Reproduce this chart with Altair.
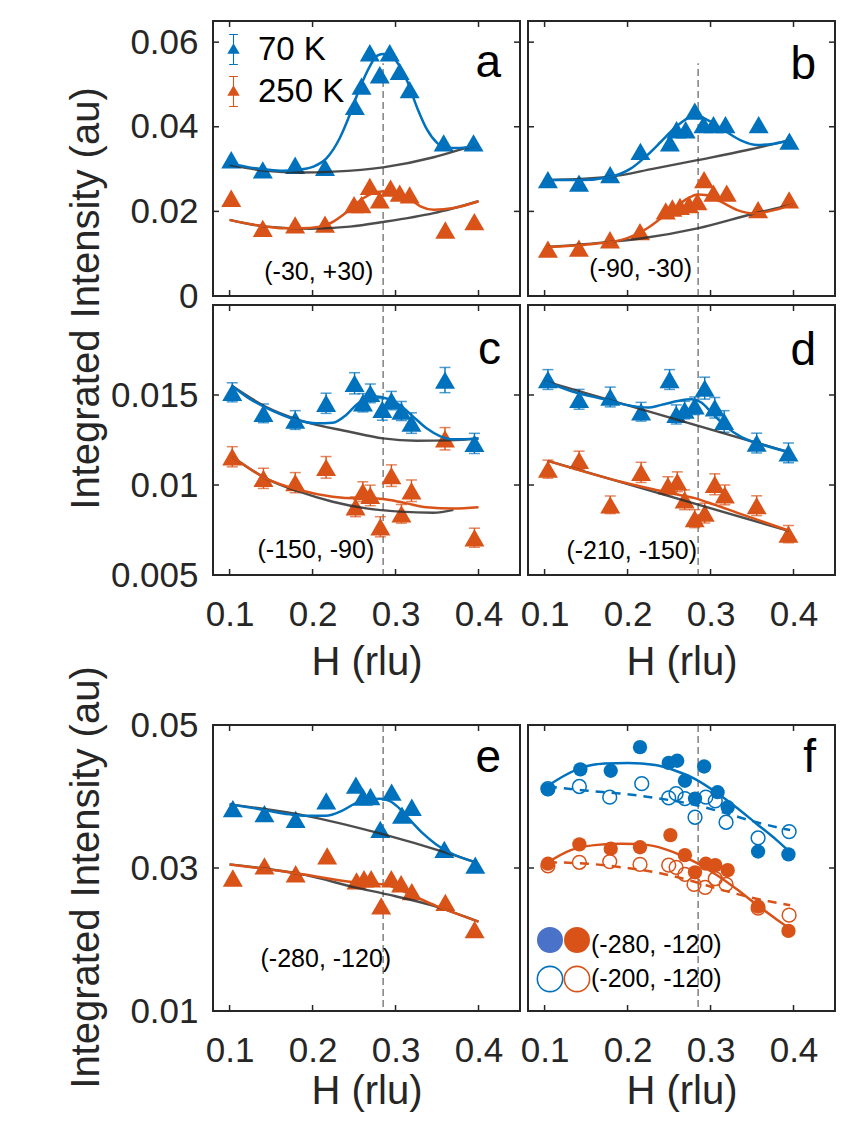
import altair as alt
import pandas as pd

BLUE = "#0072BD"
ORANGE = "#D95319"
GRAY = "#2e2e2e"
INK = "#262626"
FONT = "Liberation Sans, Arial, Helvetica, sans-serif"
TEMPS = ["70 K", "250 K"]
W = 307
XDOM = [0.08, 0.45]
X_TICKS = [0.1, 0.2, 0.3, 0.4]
H_LINE = 0.285

# ---------------- panel a : (-30, +30) ----------------
a_h70 = [0.102, 0.140, 0.179, 0.215, 0.251, 0.259, 0.269, 0.281, 0.293, 0.305, 0.317, 0.358, 0.394]
a_i70 = [0.0322, 0.0298, 0.0309, 0.0304, 0.0448, 0.0496, 0.0575, 0.0523, 0.0575, 0.0531, 0.0488, 0.0362, 0.0362]
a_h250 = [0.102, 0.140, 0.179, 0.215, 0.250, 0.259, 0.269, 0.281, 0.294, 0.305, 0.317, 0.360, 0.395]
a_i250 = [0.0231, 0.0160, 0.0168, 0.0170, 0.0216, 0.0216, 0.0259, 0.0227, 0.0255, 0.0243, 0.0239, 0.0156, 0.0176]
a_fit_h70 = [0.100, 0.124, 0.144, 0.164, 0.185, 0.201, 0.217, 0.233, 0.245, 0.257, 0.269, 0.277, 0.285,
             0.293, 0.301, 0.314, 0.326, 0.338, 0.350, 0.362, 0.378, 0.400]
a_fit_i70 = [0.0314, 0.0304, 0.0299, 0.0296, 0.0299, 0.0306, 0.0326, 0.0374, 0.0429, 0.0492, 0.0543, 0.0567,
             0.0572, 0.0571, 0.0555, 0.0508, 0.0445, 0.0393, 0.0362, 0.0350, 0.0350, 0.0358]
a_bg_h70 = [0.100, 0.144, 0.185, 0.225, 0.285, 0.346, 0.378, 0.400]
a_bg_i70 = [0.0310, 0.0296, 0.0292, 0.0294, 0.0304, 0.0328, 0.0346, 0.0358]
a_fit_h250 = [0.100, 0.124, 0.144, 0.164, 0.185, 0.209, 0.225, 0.237, 0.249, 0.261, 0.273, 0.283, 0.293,
              0.305, 0.318, 0.330, 0.346, 0.370, 0.400]
a_fit_i250 = [0.0180, 0.0170, 0.0164, 0.0160, 0.0160, 0.0164, 0.0176, 0.0192, 0.0212, 0.0231, 0.0243,
              0.0247, 0.0247, 0.0239, 0.0228, 0.0212, 0.0204, 0.0208, 0.0224]
a_bg_h250 = [0.100, 0.144, 0.197, 0.245, 0.285, 0.346, 0.400]
a_bg_i250 = [0.0180, 0.0164, 0.0159, 0.0164, 0.0175, 0.0196, 0.0224]

# ---------------- panel b : (-90, -30) ----------------
b_h70 = [0.104, 0.1415, 0.179, 0.2155, 0.251, 0.259, 0.270, 0.281, 0.2915, 0.3035, 0.318, 0.358, 0.395]
b_i70 = [0.0275, 0.0267, 0.0287, 0.0342, 0.0362, 0.0393, 0.0393, 0.0437, 0.0405, 0.0405, 0.0405, 0.0405, 0.0366]
b_h250 = [0.104, 0.1414, 0.1788, 0.215, 0.246, 0.254, 0.2632, 0.2741, 0.2842, 0.2922, 0.3035, 0.3195, 0.3573, 0.3947]
b_i250 = [0.0111, 0.0113, 0.0133, 0.0152, 0.0201, 0.0208, 0.0212, 0.0216, 0.0223, 0.0275, 0.0243, 0.0243, 0.0204, 0.0227]
b_fit_h70 = [0.104, 0.1434, 0.1796, 0.2037, 0.2238, 0.2399, 0.256, 0.2721, 0.2801, 0.2882, 0.3002, 0.3163,
             0.3364, 0.3565, 0.3766, 0.3947]
b_fit_i70 = [0.0274, 0.0274, 0.0282, 0.0301, 0.0333, 0.0364, 0.0396, 0.0420, 0.0427, 0.0423, 0.0412, 0.0392,
             0.0368, 0.0357, 0.0360, 0.0368]
b_bg_h70 = [0.104, 0.1796, 0.2318, 0.2841, 0.3444, 0.3947]
b_bg_i70 = [0.0274, 0.0282, 0.0301, 0.0321, 0.0345, 0.0368]
b_fit_h250 = [0.104, 0.1515, 0.1917, 0.2238, 0.2399, 0.256, 0.2721, 0.2842, 0.2962, 0.3123, 0.3324, 0.3525,
              0.3766, 0.3988]
b_fit_i250 = [0.0116, 0.0122, 0.0132, 0.0160, 0.0183, 0.0207, 0.0230, 0.0240, 0.0238, 0.0223, 0.0203, 0.0195,
              0.0203, 0.0216]
b_bg_h250 = [0.104, 0.1796, 0.2158, 0.2842, 0.3525, 0.3988]
b_bg_i250 = [0.0116, 0.0128, 0.0136, 0.0160, 0.0195, 0.0216]

# ---------------- panel c : (-150, -90) ----------------
c_h70 = [0.1032, 0.1408, 0.1791, 0.2163, 0.2506, 0.2607, 0.2696, 0.2841, 0.295, 0.3071, 0.3192, 0.3596, 0.3951]
c_i70 = [0.01515, 0.01398, 0.01361, 0.01454, 0.01565, 0.01457, 0.01509, 0.0142, 0.01469, 0.01411, 0.01344,
         0.01583, 0.01231]
c_e70 = [0.00053, 0.00052, 0.00052, 0.00056, 0.00059, 0.00051, 0.00052, 0.0006, 0.00051, 0.00053, 0.00057,
         0.0007, 0.00056]
c_h250 = [0.1032, 0.1408, 0.1791, 0.2163, 0.2518, 0.2606, 0.2695, 0.2817, 0.295, 0.3071, 0.3192, 0.3596, 0.3951]
c_i250 = [0.01157, 0.01037, 0.01013, 0.01098, 0.00879, 0.00963, 0.00942, 0.00768, 0.01052, 0.0084, 0.00968,
          0.01257, 0.00707]
c_e250 = [0.00056, 0.00056, 0.00056, 0.0006, 0.00055, 0.00055, 0.00057, 0.00056, 0.0006, 0.00052, 0.0006,
          0.00062, 0.00053]
c_fit_h70 = [0.1032, 0.1234, 0.1436, 0.1638, 0.184, 0.2042, 0.2243, 0.2405, 0.2526, 0.2647, 0.2768, 0.2889,
             0.3051, 0.3212, 0.3374, 0.3535, 0.3697, 0.400]
c_fit_i70 = [0.0155, 0.01481, 0.0143, 0.01389, 0.01357, 0.01343, 0.01346, 0.01389, 0.01444, 0.01481, 0.01491,
             0.01481, 0.01444, 0.0138, 0.01315, 0.01272, 0.01254, 0.01259]
c_bg_h70 = [0.1032, 0.1436, 0.184, 0.2445, 0.2849, 0.3253, 0.3657, 0.400]
c_bg_i70 = [0.0155, 0.01435, 0.01361, 0.01296, 0.01259, 0.01246, 0.01248, 0.01259]
c_fit_h250 = [0.1032, 0.1436, 0.184, 0.2243, 0.2526, 0.2728, 0.293, 0.3132, 0.3374, 0.3697, 0.400]
c_fit_i250 = [0.01157, 0.01037, 0.00972, 0.00935, 0.00926, 0.00926, 0.00917, 0.00898, 0.00876, 0.00869, 0.00876]
c_bg_h250 = [0.1032, 0.1436, 0.184, 0.2243, 0.2647, 0.3051, 0.3455, 0.3697]
c_bg_i250 = [0.01157, 0.01037, 0.00963, 0.00907, 0.0087, 0.00852, 0.00846, 0.00862]

# ---------------- panel d : (-210, -150) ----------------
d_h70 = [0.104, 0.1416, 0.1791, 0.2163, 0.2506, 0.2587, 0.2688, 0.2809, 0.293, 0.3051, 0.3164, 0.3556, 0.3939]
d_i70 = [0.01586, 0.01476, 0.01489, 0.01407, 0.01586, 0.01392, 0.01416, 0.0144, 0.01538, 0.01429, 0.01353,
         0.01233, 0.01178]
d_e70 = [0.00055, 0.00055, 0.00055, 0.00052, 0.00055, 0.00053, 0.00049, 0.00049, 0.00061, 0.00057, 0.0006,
         0.00055, 0.00055]
d_h250 = [0.104, 0.1416, 0.1791, 0.2163, 0.2486, 0.2599, 0.2688, 0.2809, 0.293, 0.3051, 0.3172, 0.3556, 0.3939]
d_i250 = [0.01088, 0.01137, 0.0089, 0.0107, 0.00996, 0.01018, 0.00918, 0.00813, 0.00844, 0.01004, 0.00945,
          0.00885, 0.00727]
d_e250 = [0.0005, 0.00051, 0.00049, 0.00056, 0.0005, 0.00055, 0.00055, 0.0005, 0.00055, 0.00058, 0.00055,
          0.00055, 0.00048]
d_fit_h70 = [0.100, 0.1315, 0.1719, 0.2042, 0.2243, 0.2405, 0.2607, 0.2768, 0.2889, 0.301, 0.3171, 0.3374,
             0.3616, 0.3939]
d_fit_i70 = [0.01577, 0.01522, 0.01476, 0.0144, 0.0143, 0.01445, 0.01467, 0.01476, 0.01458, 0.01403, 0.0133,
             0.01266, 0.01225, 0.01183]
d_bg_h70 = [0.100, 0.3939]
d_bg_i70 = [0.01577, 0.01183]
d_fit_h250 = [0.104, 0.192, 0.2526, 0.2809, 0.297, 0.3333, 0.3939]
d_fit_i250 = [0.01134, 0.01018, 0.00954, 0.00927, 0.00903, 0.00844, 0.00747]
d_bg_h250 = [0.104, 0.3939]
d_bg_i250 = [0.01134, 0.00745]

# ---------------- panel e : (-280, -120) ----------------
e_h70 = [0.1039, 0.142, 0.1796, 0.2165, 0.2522, 0.2608, 0.2698, 0.2816, 0.2953, 0.3078, 0.3196, 0.3588, 0.3961]
e_i70 = [0.0383, 0.0376, 0.0368, 0.0394, 0.0416, 0.0399, 0.0400, 0.0354, 0.0406, 0.0374, 0.0385, 0.0326, 0.0304]
e_h250 = [0.1039, 0.142, 0.1796, 0.2176, 0.253, 0.262, 0.2706, 0.2827, 0.2949, 0.3067, 0.3196, 0.360, 0.3953]
e_i250 = [0.0286, 0.0303, 0.0292, 0.0317, 0.0282, 0.0285, 0.0285, 0.0247, 0.0285, 0.0278, 0.0267, 0.0252, 0.0214]
e_fit_h70 = [0.100, 0.1333, 0.1725, 0.1922, 0.2157, 0.2353, 0.251, 0.2667, 0.2824, 0.2941, 0.3059, 0.3176,
             0.3333, 0.349, 0.3647, 0.3961]
e_fit_i70 = [0.0389, 0.0383, 0.0375, 0.0373, 0.0373, 0.0380, 0.0390, 0.0396, 0.0397, 0.0393, 0.0382, 0.0367,
             0.0348, 0.0333, 0.0322, 0.0308]
e_bg_h70 = [0.100, 0.1922, 0.2824, 0.3647, 0.3961]
e_bg_i70 = [0.0389, 0.0373, 0.0348, 0.0320, 0.0308]
e_fit_h250 = [0.100, 0.1725, 0.251, 0.2902, 0.3176, 0.349, 0.400]
e_fit_i250 = [0.0305, 0.0294, 0.0280, 0.0276, 0.0263, 0.0247, 0.0225]
e_bg_h250 = [0.100, 0.1922, 0.251, 0.2902, 0.349, 0.400]
e_bg_i250 = [0.0305, 0.0290, 0.0273, 0.0263, 0.0246, 0.0225]

# ---------------- panel f : two integration windows ----------------
f_full_h70 = [0.104, 0.1431, 0.1797, 0.215, 0.2496, 0.2598, 0.2691, 0.2813, 0.2923, 0.3085, 0.3207, 0.3573, 0.3939]
f_full_i70 = [0.0410, 0.0438, 0.0436, 0.0469, 0.0447, 0.0450, 0.0422, 0.0397, 0.0442, 0.0406, 0.0385, 0.0323, 0.0319]
f_open_h70 = [0.104, 0.1419, 0.1785, 0.2171, 0.2496, 0.2585, 0.2691, 0.2813, 0.2943, 0.3057, 0.3187, 0.3573, 0.3947]
f_open_i70 = [0.0411, 0.0414, 0.0399, 0.0418, 0.0398, 0.0404, 0.0397, 0.0371, 0.0399, 0.0394, 0.0364, 0.0342, 0.0351]
f_full_h250 = [0.104, 0.1419, 0.1797, 0.215, 0.2516, 0.2691, 0.2813, 0.2943, 0.3057, 0.3207, 0.3573, 0.3939]
f_full_i250 = [0.0306, 0.0333, 0.0327, 0.0329, 0.0346, 0.0318, 0.0294, 0.0306, 0.0304, 0.0297, 0.0246, 0.0212]
f_open_h250 = [0.104, 0.1419, 0.1785, 0.215, 0.2496, 0.2585, 0.2691, 0.2801, 0.2935, 0.3057, 0.3187, 0.3573, 0.3947]
f_open_i250 = [0.0303, 0.0308, 0.0309, 0.0305, 0.0304, 0.0301, 0.0291, 0.0277, 0.0273, 0.0285, 0.0277, 0.0244, 0.0234]
f_sfit_h70 = [0.104, 0.1236, 0.1439, 0.1724, 0.2008, 0.2333, 0.2577, 0.2821, 0.3065, 0.3309, 0.3553, 0.3797, 0.3959]
f_sfit_i70 = [0.0415, 0.0429, 0.0440, 0.0446, 0.0447, 0.0444, 0.0436, 0.0424, 0.0406, 0.0385, 0.0362, 0.0339, 0.0322]
f_dfit_h70 = [0.104, 0.152, 0.1927, 0.2333, 0.274, 0.3146, 0.3553, 0.3959]
f_dfit_i70 = [0.0414, 0.0408, 0.0404, 0.0398, 0.0390, 0.0378, 0.0364, 0.0353]
f_sfit_h250 = [0.104, 0.1317, 0.1602, 0.1927, 0.2252, 0.2537, 0.2821, 0.3065, 0.3309, 0.3553, 0.3797, 0.3959]
f_sfit_i250 = [0.0308, 0.0325, 0.0332, 0.0334, 0.0332, 0.0323, 0.0308, 0.0291, 0.0271, 0.0249, 0.0228, 0.0215]
f_dfit_h250 = [0.104, 0.152, 0.1927, 0.2333, 0.274, 0.3146, 0.3553, 0.3959]
f_dfit_i250 = [0.0308, 0.0306, 0.0301, 0.0294, 0.0283, 0.0269, 0.0257, 0.0248]

# panel annotation labels: (text, H, intensity)
ann_a = ("(-30, +30)", 0.2075, 0.0038)
ann_b = ("(-90, -30)", 0.2158, 0.0045)
ann_c = ("(-150, -90)", 0.204, 0.00593)
ann_d = ("(-210, -150)", 0.205, 0.00588)
ann_e = ("(-280, -120)", 0.216, 0.0162)
legend_f = ["(-280, -120)", "(-200, -120)"]

LEGEND_PATH = ("M-0.035,-1L0.035,-1L0.035,1L-0.035,1Z"
               "M-0.28,-1L0.28,-1L0.28,-0.93L-0.28,-0.93Z"
               "M-0.28,0.93L0.28,0.93L0.28,1L-0.28,1Z"
               "M-0.4,0.27L0,-0.4L0.4,0.27Z")


def mk(h, i, t, e=None):
    d = pd.DataFrame({"H": h, "I": i, "T": t})
    if e is not None:
        d["lo"] = [v - s for v, s in zip(i, e)]
        d["hi"] = [v + s for v, s in zip(i, e)]
    return d


def two(h70, i70, h250, i250, e70=None, e250=None):
    return pd.concat([mk(h70, i70, "70 K", e70), mk(h250, i250, "250 K", e250)], ignore_index=True)


def base_axes(ydom, xaxis, yaxis):
    xs = alt.Scale(domain=XDOM, nice=False, zero=False)
    ys = alt.Scale(domain=ydom, nice=False, zero=False)

    def X(f="H"):
        return alt.X(f"{f}:Q", scale=xs, axis=xaxis)

    def Y(f="I"):
        return alt.Y(f"{f}:Q", scale=ys, axis=yaxis)

    return X, Y


def color(legend=None):
    return alt.Color("T:N", scale=alt.Scale(domain=TEMPS, range=[BLUE, ORANGE]), legend=legend)


def frame_ticks(X, Y, height, yticks):
    xt = pd.DataFrame({"H": X_TICKS})
    yt = pd.DataFrame({"I": yticks})
    r = dict(color=INK, strokeWidth=1.5)
    return [
        alt.Chart(xt).mark_rule(**r).encode(x=X(), y=alt.value(0), y2=alt.value(6)),
        alt.Chart(xt).mark_rule(**r).encode(x=X(), y=alt.value(height - 6), y2=alt.value(height)),
        alt.Chart(yt).mark_rule(**r).encode(y=Y(), x=alt.value(0), x2=alt.value(6)),
        alt.Chart(yt).mark_rule(**r).encode(y=Y(), x=alt.value(W - 6), x2=alt.value(W)),
    ]


def vline(X, Y, height, top=None):
    style = dict(color="#404040", strokeWidth=1, strokeDash=[7, 4])
    if top is None:
        return alt.Chart(pd.DataFrame({"H": [H_LINE]})).mark_rule(**style).encode(
            x=X(), y=alt.value(0), y2=alt.value(height))
    return alt.Chart(pd.DataFrame({"H": [H_LINE], "I": [0.0], "I2": [top]})).mark_rule(**style).encode(
        x=X(), y=Y(), y2="I2:Q")


def letter_text(ch, y):
    return alt.Chart(pd.DataFrame({"t": [ch]})).mark_text(
        font=FONT, fontSize=46, align="right", baseline="alphabetic", color="black"
    ).encode(x=alt.value(W - 19), y=alt.value(y), text="t:N")


def ann_text(X, Y, ann):
    return alt.Chart(pd.DataFrame({"t": [ann[0]], "H": [ann[1]], "I": [ann[2]]})).mark_text(
        font=FONT, fontSize=25, align="center", baseline="alphabetic", color="black"
    ).encode(x=X(), y=Y(), text="t:N")


def tri_panel(height, ydom, yticks, xaxis, yaxis, pts, fits, bgs, ann, letter, letter_y,
              vtop=None, legend=None):
    X, Y = base_axes(ydom, xaxis, yaxis)
    layers = [vline(X, Y, height, vtop)]
    if "lo" in pts.columns:
        caps = pd.concat([
            pts[["H", "lo", "T"]].rename(columns={"lo": "I"}),
            pts[["H", "hi", "T"]].rename(columns={"hi": "I"}),
        ], ignore_index=True)
        layers.append(alt.Chart(pts).mark_rule(strokeWidth=1.4).encode(
            x=X(), y=Y("lo"), y2="hi:Q", color=color()))
        layers.append(alt.Chart(caps).mark_tick(orient="horizontal", size=11, thickness=1.5).encode(
            x=X(), y=Y(), color=color()))
    layers.append(alt.Chart(pts).mark_point(shape="triangle-up", filled=True, size=400, opacity=1).encode(
        x=X(), y=Y(), color=color(legend)))
    layers.append(alt.Chart(bgs).mark_line(color=GRAY, strokeWidth=2.4, opacity=0.85,
                                           interpolate="monotone").encode(x=X(), y=Y(), detail="T:N"))
    layers.append(alt.Chart(fits).mark_line(strokeWidth=2.5, interpolate="monotone").encode(
        x=X(), y=Y(), color=color()))
    layers.append(ann_text(X, Y, ann))
    layers.append(letter_text(letter, letter_y))
    layers += frame_ticks(X, Y, height, yticks)
    return alt.layer(*layers).properties(width=W, height=height)


AX = dict(domain=False, ticks=False, tickSize=0, grid=False, labelFlush=False, labelOverlap=False)


def yaxis(vals, title=None, title_y=0):
    if title is None:
        return alt.Axis(values=vals, format="~g", title=None, labelPadding=15, **AX)
    return alt.Axis(values=vals, format="~g", title=title, titleX=-115, titleY=title_y,
                    titleBaseline="alphabetic", titleAngle=270, labelPadding=15, **AX)


def xaxis(title_y):
    return alt.Axis(values=X_TICKS, format=".1f", title="H (rlu)", titleY=title_y,
                    titleBaseline="alphabetic", labelPadding=22, **AX)


YT1 = [0, 0.02, 0.04, 0.06]
YT2 = [0.005, 0.01, 0.015]
YT3 = [0.01, 0.03, 0.05]
H1, H2, H3 = 275, 270, 286
GAP_ROW = 132
YTITLE = "Integrated Intensity (au)"

leg_a = alt.Legend(title=None, orient="none", legendX=4, legendY=12, symbolType=LEGEND_PATH,
                   symbolSize=961, symbolStrokeWidth=0, labelFont=FONT, labelFontSize=33,
                   labelColor="black", labelOffset=8, rowPadding=8, padding=0)

pa = tri_panel(H1, [0, 0.065], YT1, None, yaxis(YT1, YTITLE, 277),
               two(a_h70, a_i70, a_h250, a_i250),
               two(a_fit_h70, a_fit_i70, a_fit_h250, a_fit_i250),
               two(a_bg_h70, a_bg_i70, a_bg_h250, a_bg_i250),
               ann_a, "a", 56, vtop=0.055, legend=leg_a)
pb = tri_panel(H1, [0, 0.065], YT1, None, None,
               two(b_h70, b_i70, b_h250, b_i250),
               two(b_fit_h70, b_fit_i70, b_fit_h250, b_fit_i250),
               two(b_bg_h70, b_bg_i70, b_bg_h250, b_bg_i250),
               ann_b, "b", 58, vtop=0.055)
pc = tri_panel(H2, [0.005, 0.02], YT2, xaxis(99), yaxis(YT2),
               two(c_h70, c_i70, c_h250, c_i250, c_e70, c_e250),
               two(c_fit_h70, c_fit_i70, c_fit_h250, c_fit_i250),
               two(c_bg_h70, c_bg_i70, c_bg_h250, c_bg_i250),
               ann_c, "c", 59)
pd_ = tri_panel(H2, [0.005, 0.02], YT2, xaxis(99), None,
                two(d_h70, d_i70, d_h250, d_i250, d_e70, d_e250),
                two(d_fit_h70, d_fit_i70, d_fit_h250, d_fit_i250),
                two(d_bg_h70, d_bg_i70, d_bg_h250, d_bg_i250),
                ann_d, "d", 60)
pe = tri_panel(H3, [0.01, 0.05], YT3, xaxis(92), yaxis(YT3, YTITLE, 152),
               two(e_h70, e_i70, e_h250, e_i250),
               two(e_fit_h70, e_fit_i70, e_fit_h250, e_fit_i250),
               two(e_bg_h70, e_bg_i70, e_bg_h250, e_bg_i250),
               ann_e, "e", 47)

# ---- panel f ----
Xf, Yf = base_axes([0.01, 0.05], xaxis(92), None)
full_f = two(f_full_h70, f_full_i70, f_full_h250, f_full_i250)
open_f = two(f_open_h70, f_open_i70, f_open_h250, f_open_i250)
sfit_f = two(f_sfit_h70, f_sfit_i70, f_sfit_h250, f_sfit_i250)
dfit_f = two(f_dfit_h70, f_dfit_i70, f_dfit_h250, f_dfit_i250)
one = pd.DataFrame({"d": [0]})


def leg_dot(x, y, col, filled):
    if filled:
        m = alt.Chart(one).mark_point(shape="circle", filled=True, size=676, opacity=1)
    else:
        m = alt.Chart(one).mark_point(shape="circle", filled=False, size=640, strokeWidth=1.6, opacity=1)
    return m.encode(x=alt.value(x), y=alt.value(y), color=alt.value(col))


def leg_txt(y, s):
    return alt.Chart(one).mark_text(font=FONT, fontSize=25, align="left", baseline="alphabetic",
                                    color="black").encode(x=alt.value(63), y=alt.value(y), text=alt.value(s))


f_layers = [
    vline(Xf, Yf, H3),
    alt.Chart(full_f).mark_point(shape="circle", filled=True, size=205, opacity=1).encode(
        x=Xf(), y=Yf(), color=color()),
    alt.Chart(open_f).mark_point(shape="circle", filled=False, size=190, strokeWidth=1.5, opacity=1).encode(
        x=Xf(), y=Yf(), color=color()),
    alt.Chart(sfit_f).mark_line(strokeWidth=2.5, interpolate="monotone").encode(x=Xf(), y=Yf(), color=color()),
    alt.Chart(dfit_f).mark_line(strokeWidth=2.5, strokeDash=[9, 7], interpolate="monotone").encode(
        x=Xf(), y=Yf(), color=color()),
    leg_dot(22, 215, "#4a72c8", True),
    leg_dot(49, 215, ORANGE, True),
    leg_dot(22, 254, BLUE, False),
    leg_dot(49, 254, ORANGE, False),
    leg_txt(228, legend_f[0]),
    leg_txt(262, legend_f[1]),
    letter_text("f", 47),
] + frame_ticks(Xf, Yf, H3, YT3)
pf = alt.layer(*f_layers).properties(width=W, height=H3)


def spacer():
    return alt.Chart(one).mark_point(opacity=0).encode(
        x=alt.value(0), y=alt.value(0)
    ).properties(width=W, height=GAP_ROW, view=alt.ViewBackground(stroke="transparent", strokeWidth=0))


chart = alt.concat(pa, pb, pc, pd_, spacer(), spacer(), pe, pf, columns=2,
                   spacing={"row": 9, "column": 8}, bounds="flush")
chart = chart.resolve_scale(color="independent").resolve_legend(color="independent")

chart = chart.configure_view(stroke=INK, strokeWidth=2).configure_axis(
    labelFont=FONT, titleFont=FONT, labelFontSize=35, titleFontSize=40,
    labelColor=INK, titleColor=INK, titleFontWeight="normal"
).properties(padding={"left": 56, "top": 11, "right": 5, "bottom": 2})

chart.save("out.html", embed_options={"renderer": "svg", "actions": False})
